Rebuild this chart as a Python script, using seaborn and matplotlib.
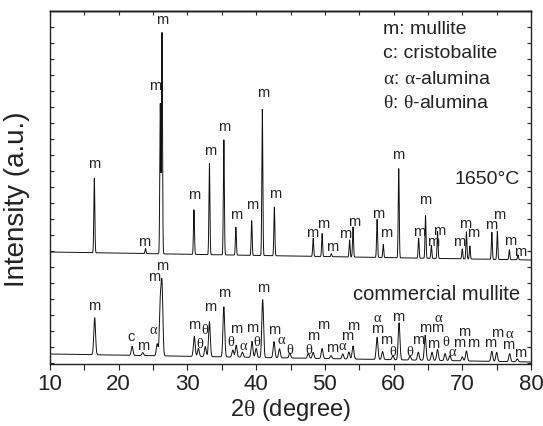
import numpy as np
import pandas as pd
import seaborn as sns
import matplotlib.pyplot as plt

# peak positions (2theta, deg) and heights above background (a.u.)
top_pos = [16.45, 23.9, 26.05, 26.3, 30.95, 33.2, 35.3, 37.05, 39.35, 40.9, 42.65,
           48.3, 49.6, 50.95, 53.6, 54.1, 57.6, 58.5, 60.75, 63.65, 64.65, 65.5, 66.4,
           70.0, 70.6, 71.1, 74.3, 75.1, 76.85, 78.1]
top_h = [75, 5, 151, 221, 45, 91, 115, 28, 35, 146, 49,
         18, 23, 3, 17, 30, 38, 13, 90, 20, 43, 13, 27,
         10, 27, 13, 27, 28, 10, 5]
top_bg = [112, 104]  # background level at 10 and 80 deg

com_pos = [16.5, 21.95, 23.5, 25.6, 26.05, 26.3, 31.0, 31.6, 32.6, 33.2, 35.3, 36.6,
           37.1, 38.0, 39.4, 40.0, 40.95, 42.6, 43.4, 44.9, 47.6,
           48.3, 49.6, 50.9, 52.6, 53.5, 54.1, 57.6, 58.4, 59.9, 60.8, 62.4, 63.6,
           64.6, 65.6, 66.4, 67.5, 68.2, 70.0, 70.6, 74.3, 75.0, 76.9, 78.0]
com_h = [37, 9, 3, 12, 50, 68, 20, 8, 10, 35, 50, 7,
         12, 5, 16, 9, 58, 16, 9, 5, 5,
         6, 10, 3, 5, 7, 13, 22, 8, 4, 37, 4, 8,
         25, 8, 11, 7, 5, 4, 10, 10, 9, 8, 3]
com_bg = [10, 2]

# phase labels: (2theta, height, text)
top_lab_x = [16.4, 23.7, 25.3, 26.3, 31.0, 33.3, 35.3, 37.1, 39.4, 41.0, 42.8,
             48.1, 49.7, 51.0, 52.9, 54.2, 57.7, 58.9, 60.7, 63.7, 64.6, 65.8, 66.6,
             69.5, 70.4, 71.6, 74.2, 75.4, 77.0, 78.4]
top_lab_y = [200, 122, 278, 344, 169, 213, 237, 149, 159, 271, 170,
             131, 140, 117, 130, 142, 150, 131, 209, 132, 164, 122, 133,
             122, 140, 131, 139, 149, 123, 112]

com_lab_x = [16.4, 21.8, 23.5, 25.0, 25.1, 26.3, 31.0, 31.8, 32.6, 33.3, 35.3, 36.3,
             37.1, 38.1, 39.4, 40.1, 41.0, 42.6, 43.6, 44.9, 47.6, 48.3, 49.7, 51.0,
             52.6, 53.2, 54.1, 57.6, 57.6, 58.9, 59.9, 60.7, 62.4, 63.6, 64.6, 65.8,
             66.3, 66.5, 67.6, 68.5, 69.5, 70.3, 71.6, 74.0, 75.1, 76.8, 76.7, 78.4]
com_lab_y = [58, 27, 18, 33, 87, 98, 39, 20, 33, 57, 71, 21,
             35, 18, 36, 22, 76, 34, 24, 14, 14, 28, 39, 16,
             17, 28, 38, 46, 35, 24, 12, 47, 11, 24, 36, 20,
             36, 46, 21, 11, 21, 32, 21, 21, 31, 29, 19, 11]
com_lab_t = ["m", "c", "m", "α", "m", "m", "m", "θ", "θ", "m", "m", "θ",
             "m", "α", "m", "θ", "m", "m", "α", "θ", "θ", "m", "m", "m",
             "α", "m", "m", "α", "m", "m", "θ", "m", "θ", "m", "m", "m",
             "m", "α", "θ", "α", "m", "m", "m", "m", "m", "α", "m", "m"]

legend_lines = ["m: mullite", "c: cristobalite",
                r"$\mathrm{\alpha}$: $\mathrm{\alpha}$-alumina",
                r"$\mathrm{\theta}$: $\mathrm{\theta}$-alumina"]


def pattern(tt, pos, h, bg, fwhm):
    y = np.interp(tt, [10, 80], bg)
    s = fwhm / 2.355
    for p, a in zip(pos, h):
        y = y + a * np.exp(-0.5 * ((tt - p) / s) ** 2)
    return y


tt = np.arange(10, 80.001, 0.02)
df = pd.concat([
    pd.DataFrame({"two_theta": tt, "intensity": pattern(tt, top_pos, top_h, top_bg, 0.17), "sample": "1650"}),
    pd.DataFrame({"two_theta": tt, "intensity": pattern(tt, com_pos, com_h, com_bg, 0.3), "sample": "commercial"}),
])

sns.set_style("ticks")
plt.rcParams["font.family"] = ["Liberation Sans", "DejaVu Sans"]
plt.rcParams["mathtext.fontset"] = "custom"
plt.rcParams["mathtext.rm"] = "Liberation Serif"

fig = plt.figure(figsize=(5.43, 4.26), dpi=100)
ax = fig.add_axes([50 / 543, 62 / 426, 481 / 543, 353 / 426])

sns.lineplot(data=df, x="two_theta", y="intensity", hue="sample", palette=["#111111", "#111111"],
             legend=False, linewidth=0.7, estimator=None, ax=ax)

for x, y in zip(top_lab_x, top_lab_y):
    ax.text(x, y, "m", ha="center", va="center", fontsize=10.5, color="#222222")
for x, y, t in zip(com_lab_x, com_lab_y, com_lab_t):
    fam = ["Liberation Serif"] if t in ("α", "θ") else ["Liberation Sans"]
    ax.text(x, y, t, ha="center", va="center", fontsize=10.5, color="#222222", family=fam)

for i, line in enumerate(legend_lines):
    ax.text(58.4, 335 - i * 25, line, ha="left", va="center", fontsize=14, color="#222222")
ax.text(78.4, 184, "1650°C", ha="right", va="center", fontsize=14, color="#222222")
ax.text(78.4, 69, "commercial mullite", ha="right", va="center", fontsize=14.5, color="#222222")

ax.set_xlim(10, 80)
ax.set_ylim(0, 353)
ax.set_xticks(np.arange(10, 81, 10))
ax.set_xticks(np.arange(15, 80, 10), minor=True)
ax.set_yticks(np.arange(1, 354, 16))
ax.tick_params(axis="x", which="both", direction="out", length=4, width=0.8, labelsize=16, colors="#222222")
ax.tick_params(axis="y", which="both", direction="in", length=3, width=0.8, left=True, right=True,
               labelleft=False)
top = ax.secondary_xaxis("top")
top.set_xticks(np.arange(10, 81, 5))
top.tick_params(direction="in", length=3, width=0.8, labeltop=False)
for sp in list(ax.spines.values()) + list(top.spines.values()):
    sp.set_linewidth(1.0)
    sp.set_color("#222222")
    sp.set_visible(True)

ax.set_xlabel(r"2$\mathrm{\theta}$ (degree)", fontsize=17, color="#222222", labelpad=1)
ax.set_ylabel("Intensity (a.u.)", fontsize=20, color="#222222")
ax.yaxis.set_label_coords(-0.042, 0.467)

fig.savefig("out.png", dpi=100)
